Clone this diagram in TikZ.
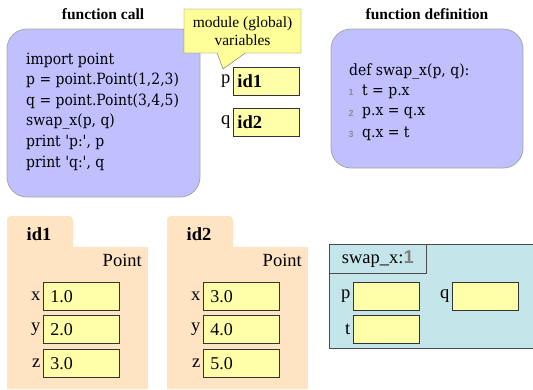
\documentclass[tikz,border=0pt]{standalone}
\usepackage{fontspec}
\setmainfont{Liberation Serif}
\newfontfamily\codefont{DejaVu Serif Condensed}
\newfontfamily\numfont{Liberation Sans}
\usetikzlibrary{positioning,shapes.callouts}
\definecolor{codebg}{RGB}{192,192,255}
\definecolor{valbg}{RGB}{255,255,170}
\definecolor{notebg}{RGB}{255,255,153}
\definecolor{objbg}{RGB}{255,228,196}
\definecolor{framebg}{RGB}{196,230,234}

\begin{document}
\begin{tikzpicture}[x=1pt, y=-1pt,
  title/.style={font=\bfseries\fontsize{15.5}{18}\selectfont},
  codebox/.style={draw=black!35, fill=codebg, line width=0.8pt, rounded corners=20pt},
  code/.style={anchor=west, inner sep=0pt, font=\codefont\fontsize{15.5}{18}\selectfont},
  lineno/.style={anchor=west, inner sep=0pt, text=black!45, font=\numfont\bfseries\fontsize{9}{10}\selectfont},
  valbox/.style={draw=black!80, fill=valbg, anchor=north west, line width=0.8pt,
    minimum height=28pt, text width=#1, inner xsep=4pt, font=\fontsize{18}{20}\selectfont},
  valbox/.default=58pt,
  varname/.style={inner sep=1.5pt, font=\fontsize{18.5}{20}\selectfont}
]
\useasboundingbox (0,0) rectangle (533,389);

% code boxes
\node[title] (calltitle) at (103,14) {function call};
\node[title] (deftitle) at (427,14) {function definition};
\node[codebox, minimum width=193pt, minimum height=168pt] (callbox) at (103.5,113) {};
\node[codebox, minimum width=192pt, minimum height=139pt] (defbox) at (427,98.5) {};

\foreach \ln [count=\i] in {import point, {p = point.Point(1,2,3)}, {q = point.Point(3,4,5)},
    {swap\_x(p, q)}, {print \textquotesingle p:\textquotesingle, p}, {print \textquotesingle q:\textquotesingle, q}}
  \node[code] (call\i) at (26,39.4+20.6*\i) {\ln};

\node[code] (def0) at (349,71) {def swap\_x(p, q):};
\foreach \ln [count=\i] in {t = p.x, p.x = q.x, q.x = t} {
  \node[lineno] (num\i) at (348.5,71+21*\i) {\i};
  \node[code] (def\i) at (362,71+21*\i) {\ln};
}

% global variables
\node[valbox, font=\bfseries\fontsize{18.5}{20}\selectfont] (gp) at (233,67) {id1};
\node[valbox, font=\bfseries\fontsize{18.5}{20}\selectfont] (gq) at (233,108) {id2};
\node[varname, left=1pt of gp] (gpname) {p};
\node[varname, left=1pt of gq] (gqname) {q};
\node[rectangle callout, draw=black!60, fill=notebg, minimum width=117pt, minimum height=44pt,
  align=center, callout absolute pointer={(223,69)}, callout pointer width=28pt, inner sep=1pt,
  font=\fontsize{15.5}{18}\selectfont] (note) at (242.5,31) {module (global)\\variables};

% objects
\foreach \oid/\ox/\va/\vb/\vc in {id1/7/1.0/2.0/3.0, id2/167/3.0/4.0/5.0} {
  \fill[objbg] (\ox,247) rectangle ++(141,142);
  \fill[objbg, rounded corners=4pt] (\ox,255) |- ++(66,-39) -- ++(0,39) -- cycle;
  \node[font=\bfseries\fontsize{18.5}{20}\selectfont] (\oid-tab) at (\ox+32,234) {\oid};
  \node[anchor=east, inner sep=0pt, font=\fontsize{18.5}{20}\selectfont] (\oid-cls) at (\ox+135,260) {Point};
  \node[valbox=62pt, inner xsep=7pt] (\oid-x) at (\ox+36,282) {\va};
  \node[valbox=62pt, inner xsep=7pt] (\oid-y) at (\ox+36,315) {\vb};
  \node[valbox=62pt, inner xsep=7pt] (\oid-z) at (\ox+36,349) {\vc};
  \foreach \f in {x,y,z}
    \node[varname, left=1pt of \oid-\f] (\oid-\f name) {\f};
}

% frame
\fill[framebg] (329,244) rectangle (533,348);
\draw[black!70, line width=0.8pt] (533,244) -- (329,244) -- (329,348) -- (533,348);
\node[draw=black!70, anchor=north west, line width=0.8pt, minimum width=97pt, minimum height=29pt,
  font=\fontsize{18.5}{20}\selectfont] (hdr) at (329,244) {swap\_x:{\numfont\bfseries\color{black!50}1}};
\node[valbox] (fp) at (353,282) {};
\node[valbox] (fq) at (452,282) {};
\node[valbox] (ft) at (353,315) {};
\foreach \v/\n in {fp/p, fq/q, ft/t}
  \node[varname, left=1pt of \v] (\v name) {\n};
\end{tikzpicture}
\end{document}
